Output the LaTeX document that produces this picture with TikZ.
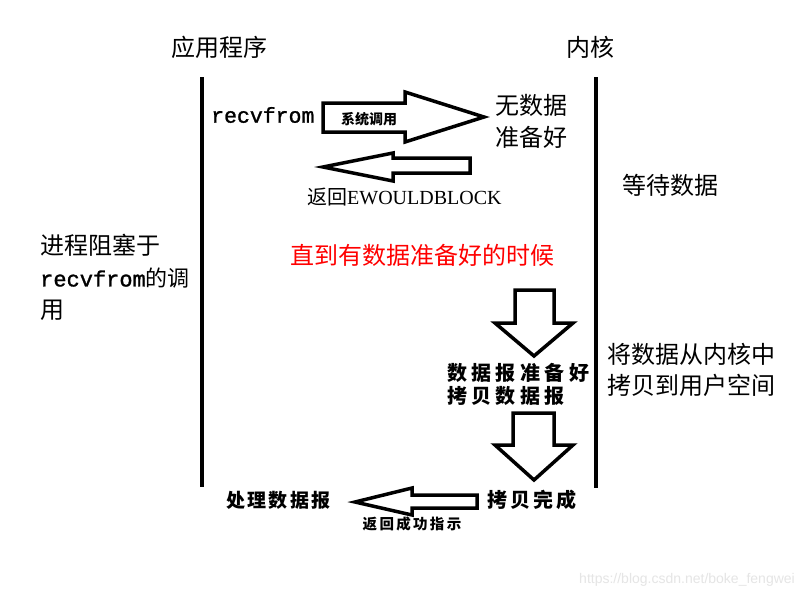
\documentclass[tikz,border=0pt]{standalone}
\usepackage{fontspec}
\setmainfont{Liberation Serif}
\setmonofont{Liberation Mono}
\newfontfamily\monomed[FakeBold=1.2]{Liberation Mono}
\newfontfamily\cjk{Noto Sans CJK SC}
\newfontfamily\cjksp[LetterSpace=12]{Noto Sans CJK SC}
\newfontfamily\cjkspw[LetterSpace=22]{Noto Sans CJK SC}
\newfontfamily\cjkspm[LetterSpace=16]{Noto Sans CJK SC}
\newfontfamily\wmfont{Liberation Sans}
\begin{document}
\begin{tikzpicture}[x=1pt,y=-1pt,
  lbl/.style={inner sep=0pt,anchor=west,font=\cjk\fontsize{24}{26}\selectfont},
  boldlbl/.style={inner sep=0pt,anchor=west,font=\cjksp\bfseries\fontsize{19}{21}\selectfont},
  widebold/.style={inner sep=0pt,anchor=west,font=\cjkspw\bfseries\fontsize{20}{22}\selectfont},
  midbold/.style={inner sep=0pt,anchor=west,font=\cjkspm\bfseries\fontsize{20}{22}\selectfont},
  blockarrow/.style={draw=black,line width=3.5pt,fill=white,line join=miter},
  timeline/.style={line width=4pt}]
\useasboundingbox[fill=white] (0,0) rectangle (805,603);
% titles
\node[lbl,anchor=center] (app) at (219,47) {应用程序};
\node[lbl,anchor=center] (kern) at (590,47) {内核};
% timelines
\coordinate (la) at (202,77); \coordinate (lb) at (202,487);
\coordinate (ra) at (596,77); \coordinate (rb) at (596,488);
\draw[timeline] (la) -- (lb);
\draw[timeline] (ra) -- (rb);
% system call arrow
\draw[blockarrow] (323,103) -- (405,103) -- (405,92) -- (484,117) -- (405,142) -- (405,132) -- (323,132) -- cycle;
\node[inner sep=0pt,font=\cjk\bfseries\fontsize{14}{16}\selectfont] (sc) at (369,119) {系统调用};
\node[inner sep=0pt,anchor=west,font=\monomed\fontsize{21.5}{23}\selectfont] (recv) at (211,115) {recvfrom};
\node[lbl] (nod1) at (495,105) {无数据};
\node[lbl] (nod2) at (495,137) {准备好};
% EWOULDBLOCK arrow
\draw[blockarrow] (470,158) -- (393,158) -- (393,153) -- (323,167) -- (393,181) -- (393,173) -- (470,173) -- cycle;
\node[inner sep=0pt,anchor=west] (ewb) at (307,197) {{\cjk\fontsize{20}{22}\selectfont 返回}{\fontsize{20}{22}\selectfont EWOULDBLOCK}};
\node[lbl] (wait) at (622,185) {等待数据};
\node[lbl,text=red] (until) at (290,255) {直到有数据准备好的时候};
\node[lbl] (blk1) at (40,245) {进程阻塞于};
\node[inner sep=0pt,anchor=west] (blk2) at (40,278) {{\monomed\fontsize{22}{24}\selectfont recvfrom}{\cjk\fontsize{22}{24}\selectfont 的调}};
\node[lbl] (blk3) at (40,310) {用};
% down arrow 1
\draw[blockarrow] (515,290) -- (554,290) -- (554,323) -- (573,323) -- (534,356) -- (495,323) -- (515,323) -- cycle;
\node[widebold] (dr1) at (447,373) {数据报准备好};
\node[widebold] (dr2) at (447,396) {拷贝数据报};
\node[lbl] (cp1) at (607,354) {将数据从内核中};
\node[lbl] (cp2) at (607,385) {拷贝到用户空间};
% down arrow 2
\draw[blockarrow] (513,413) -- (554,413) -- (554,445) -- (573,445) -- (534,480) -- (495,445) -- (513,445) -- cycle;
% bottom return arrow
\draw[blockarrow] (477,495) -- (412,495) -- (412,488) -- (355,502) -- (412,515) -- (412,508) -- (477,508) -- cycle;
\node[boldlbl] (proc) at (226,500) {处理数据报};
\node[midbold] (done) at (487,500) {拷贝完成};
\node[inner sep=0pt,font=\cjkspm\bfseries\fontsize{14.5}{16}\selectfont] (ok) at (412,524) {返回成功指示};
% watermark
\node[inner sep=0pt,anchor=east,text=black!10,font=\wmfont\fontsize{14}{16}\selectfont] (wm) at (795,580) {https://blog.csdn.net/boke\_fengwei};
\end{tikzpicture}
\end{document}
